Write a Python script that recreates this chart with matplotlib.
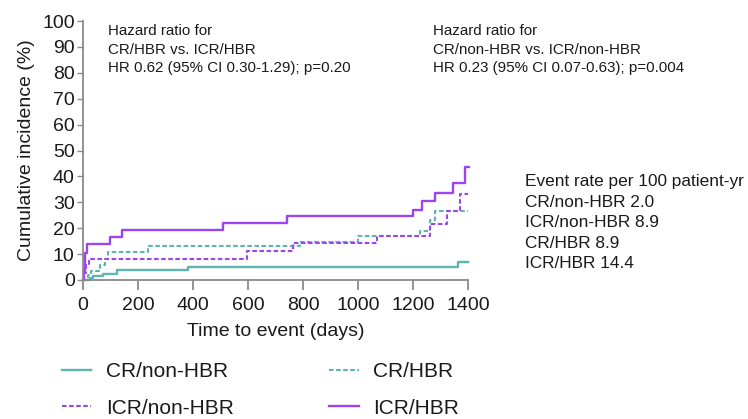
import matplotlib
matplotlib.use('Agg')
import matplotlib.pyplot as plt

plt.rcParams['font.family'] = ['Liberation Sans', 'DejaVu Sans']

# Cumulative incidence curves (days, %)
cr_nonhbr_t = [0, 25, 36, 73, 122, 383, 1364, 1400]
cr_nonhbr_v = [0, 0.8, 1.4, 2.3, 3.8, 5.0, 7.0, 7.0]

cr_hbr_t = [0, 18, 30, 62, 80, 92, 236, 789, 1000, 1225, 1262, 1280, 1400]
cr_hbr_v = [0, 1.9, 3.6, 5.7, 8.2, 10.9, 13.0, 14.7, 16.9, 18.9, 23.0, 26.8, 26.8]

icr_nonhbr_t = [0, 5, 12, 22, 595, 764, 1070, 1262, 1322, 1370, 1400]
icr_nonhbr_v = [0, 2.8, 5.6, 8.3, 11.2, 14.3, 16.9, 21.5, 26.8, 33.3, 33.3]

icr_hbr_t = [0, 2, 6, 14, 98, 141, 510, 741, 1200, 1231, 1280, 1345, 1389, 1402]
icr_hbr_v = [0, 4.0, 10.5, 13.8, 16.6, 19.4, 22.0, 24.9, 27.0, 30.4, 33.5, 37.6, 43.8, 43.8]

x_ticks = [0, 200, 400, 600, 800, 1000, 1200, 1400]
y_ticks = list(range(0, 101, 10))

hr_hbr = "Hazard ratio for\nCR/HBR vs. ICR/HBR\nHR 0.62 (95% CI 0.30-1.29); p=0.20"
hr_nonhbr = "Hazard ratio for\nCR/non-HBR vs. ICR/non-HBR\nHR 0.23 (95% CI 0.07-0.63); p=0.004"
event_rates = "Event rate per 100 patient-yr\nCR/non-HBR 2.0\nICR/non-HBR 8.9\nCR/HBR 8.9\nICR/HBR 14.4"

teal = '#5db5b0'
purple = '#9b45f0'
grey = '#8a8a8a'
txt = '#1a1a1a'

fig = plt.figure(figsize=(7.48, 4.19), dpi=100)
ax = fig.add_axes([83/748, 1 - 280/419, 385/748, 259/419])

l1, = ax.step(cr_nonhbr_t, cr_nonhbr_v, where='post', color=teal, lw=1.7, clip_on=False)
l2, = ax.step(cr_hbr_t, cr_hbr_v, where='post', color=teal, lw=1.5, dashes=(2.2, 1.2), clip_on=False)
l3, = ax.step(icr_nonhbr_t, icr_nonhbr_v, where='post', color=purple, lw=1.5, dashes=(2.2, 1.2), clip_on=False)
l4, = ax.step(icr_hbr_t, icr_hbr_v, where='post', color=purple, lw=1.7, clip_on=False)

ax.set_xlim(0, 1400)
ax.set_ylim(0, 100)
ax.set_xticks(x_ticks)
ax.set_yticks(y_ticks)
for s in ['top', 'right']:
    ax.spines[s].set_visible(False)
for s in ['left', 'bottom']:
    ax.spines[s].set_color(grey)
    ax.spines[s].set_linewidth(1.3)
ax.tick_params(axis='x', length=7, width=1.3, color=grey, labelsize=14, labelcolor=txt, pad=5)
ax.tick_params(axis='y', length=4, width=1.0, color=grey, labelsize=14, labelcolor=txt, pad=2)

ax.set_xlabel('Time to event (days)', fontsize=14, color=txt, labelpad=7)
ax.set_ylabel('Cumulative incidence (%)', fontsize=14, color=txt, labelpad=5)

ax.text(90, 99, hr_hbr, fontsize=10.9, color=txt, va='top', ha='left', linespacing=1.45)
ax.text(1272, 99, hr_nonhbr, fontsize=10.9, color=txt, va='top', ha='left', linespacing=1.45)
ax.text(1607, 40.8, event_rates, fontsize=12.4, color=txt, va='top', ha='left', linespacing=1.45)

fig.legend([l1, l3, l2, l4], ['CR/non-HBR', 'ICR/non-HBR', 'CR/HBR', 'ICR/HBR'],
           ncol=2, loc='upper left', bbox_to_anchor=(62/748, 1 - 362/419),
           frameon=False, fontsize=15, handlelength=1.4, handletextpad=0.7,
           columnspacing=4.6, labelspacing=0.85, borderpad=0, borderaxespad=0,
           labelcolor=txt)

fig.savefig('out.png', dpi=100)
